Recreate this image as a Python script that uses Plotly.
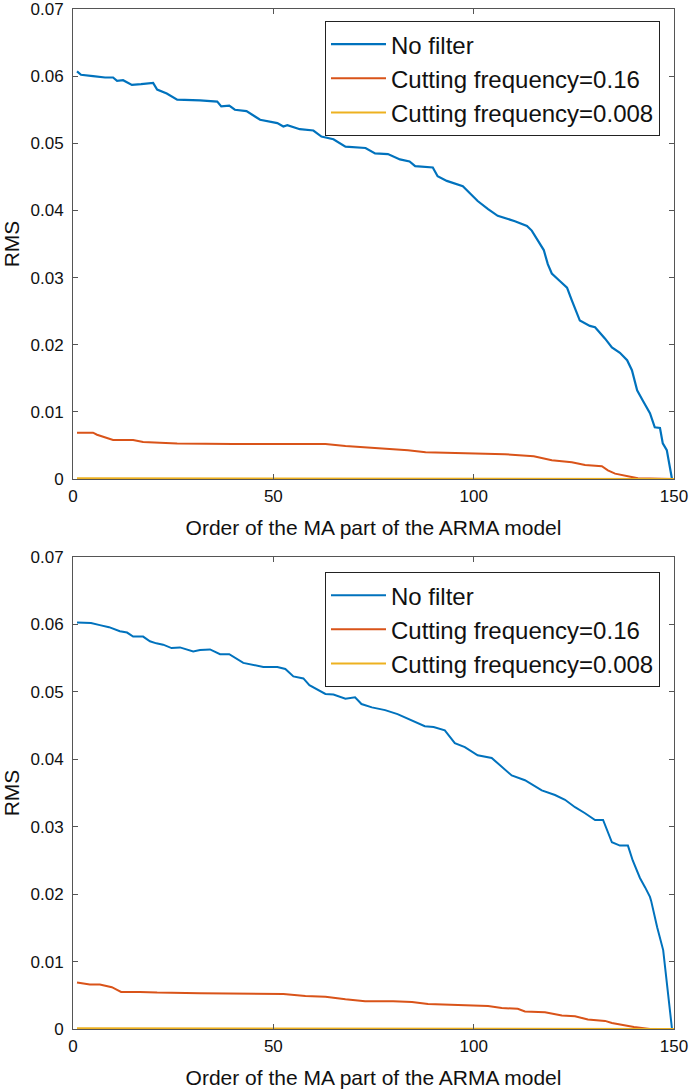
import plotly.graph_objects as go
from plotly.subplots import make_subplots

# ---------------- data ----------------
top_blue_x = [1, 2, 5, 8, 10, 11, 12.5, 14.7, 17, 20, 21, 23.4, 26, 31.7, 36, 37, 39, 40.4, 43.3, 46.7,
              51, 52.5, 53.5, 56.6, 60, 62, 65, 68, 73, 75.4, 78.6, 81.6, 84, 85.4, 89.8, 91, 93.3, 97.3,
              99, 101, 103.6, 106, 110.3, 113.3, 114.5, 115.8, 117.5, 118.5, 119.5, 121.5, 123.3, 124.5,
              125.8, 126.5, 129, 130.3, 132.8, 134.5, 136.5, 138.3, 139.5, 140.8, 142.2, 144, 145.2,
              146.5, 147.2, 148.2, 149.5]
top_blue_y = [0.0607, 0.0602, 0.0600, 0.0598, 0.0598, 0.0593, 0.0594, 0.0587, 0.0588, 0.0590,
              0.0580, 0.0574, 0.0565, 0.0564, 0.0562, 0.0555, 0.0556, 0.0550, 0.0548, 0.0535,
              0.0530, 0.0525, 0.0527, 0.0521, 0.0519, 0.0510, 0.0506, 0.0495, 0.0493, 0.0485,
              0.0484, 0.0476, 0.0473, 0.0466, 0.0464, 0.0451, 0.0444, 0.0436, 0.0426, 0.0414,
              0.0402, 0.0392, 0.0384, 0.0377, 0.0370, 0.0358, 0.0341, 0.0320, 0.0306, 0.0295,
              0.0285, 0.0266, 0.0248, 0.0236, 0.0228, 0.0226, 0.0209, 0.0196, 0.0188, 0.0177,
              0.0162, 0.0132, 0.0117, 0.0098, 0.0077, 0.0076, 0.0053, 0.0043, 0.0]

top_orange_x = [1, 5, 6, 8.4, 10, 15, 17.5, 21.7, 26, 40, 63, 68, 76, 83.6, 88, 93, 101, 107.8, 115,
                119.5, 124.5, 127.8, 132, 133.5, 135.3, 138.5, 141, 150]
top_orange_y = [0.0069, 0.0069, 0.0066, 0.0061, 0.0058, 0.0058, 0.0055, 0.0054, 0.0053, 0.0052,
                0.0052, 0.0049, 0.0046, 0.0043, 0.0040, 0.0039, 0.0038, 0.0037, 0.0034, 0.0028,
                0.0025, 0.0021, 0.0019, 0.0013, 0.0008, 0.0004, 0.0001, 0.0]

top_yellow_x = [1, 50, 100, 150]
top_yellow_y = [0.0001, 0.0001, 0.00005, 0.0]

bot_blue_x = [1, 4.5, 6.7, 9, 11.7, 13.5, 15, 17.5, 19.2, 20.8, 22.5, 24.6, 26.7, 30, 31.7, 34.2, 36.7,
              39, 42.5, 45, 47.5, 51, 53, 55, 57.5, 59, 61, 63, 65, 68, 70.4, 72, 74.6, 77.9, 81, 84.6,
              87.8, 90, 92.8, 95.3, 97.8, 101, 104.5, 109.5, 112.8, 117, 120.3, 122.8, 125.3, 127.8,
              130.3, 132.3, 134.5, 136.5, 138.5, 139.7, 141.5, 142.8, 144, 144.3, 145.8, 147.3, 148.2,
              149.5]
bot_blue_y = [0.0603, 0.0602, 0.0599, 0.0596, 0.0590, 0.0588, 0.0582, 0.0582, 0.0575, 0.0572,
              0.0570, 0.0565, 0.0566, 0.0560, 0.0562, 0.0563, 0.0556, 0.0556, 0.0543, 0.0540,
              0.0537, 0.0537, 0.0534, 0.0523, 0.0520, 0.0510, 0.0503, 0.0497, 0.0496, 0.0490,
              0.0492, 0.0482, 0.0477, 0.0473, 0.0467, 0.0458, 0.0449, 0.0448, 0.0443, 0.0424,
              0.0418, 0.0406, 0.0402, 0.0376, 0.0369, 0.0354, 0.0347, 0.0340, 0.0329, 0.0320,
              0.0310, 0.0310, 0.0277, 0.0272, 0.0272, 0.0250, 0.0224, 0.0210, 0.0196, 0.0190,
              0.0151, 0.0117, 0.0072, 0.0]

bot_orange_x = [1, 4.2, 6.7, 9.7, 11, 12, 16.7, 21, 31.7, 44, 52.5, 58, 63, 68, 72.9, 79.9, 84.6, 88.6,
                94.3, 103.6, 107, 111, 112.8, 117.8, 122, 125.3, 128.5, 132.8, 134.5, 137, 140, 144, 150]
bot_orange_y = [0.0069, 0.0066, 0.0066, 0.0062, 0.0058, 0.0055, 0.0055, 0.0054, 0.0053, 0.0053,
                0.0052, 0.0049, 0.0048, 0.0044, 0.0041, 0.0041, 0.0040, 0.0037, 0.0036, 0.0034,
                0.0031, 0.0030, 0.0026, 0.0025, 0.0020, 0.0019, 0.0014, 0.0012, 0.0009, 0.0006,
                0.0003, 0.0, 0.0]

bot_yellow_x = [1, 50, 100, 150]
bot_yellow_y = [0.0001, 0.0001, 0.00005, 0.0]

series_names = ["No filter", "Cutting frequency=0.16", "Cutting frequency=0.008"]
x_ticks = [0, 50, 100, 150]
y_ticks = [0, 0.01, 0.02, 0.03, 0.04, 0.05, 0.06, 0.07]
y_ticklabels = ["0", "0.01", "0.02", "0.03", "0.04", "0.05", "0.06", "0.07"]
x_title = "Order of the MA part of the ARMA model"
y_title = "RMS"

# ---------------- styling ----------------
BLUE, ORANGE, YELLOW = "#0072BD", "#D95319", "#EDB120"
FONT = "Arial, 'Liberation Sans', Helvetica, sans-serif"
AX = "#555555"

fig = make_subplots(rows=2, cols=1, vertical_spacing=0.0764)

panels = [
    (1, "legend", [(top_blue_x, top_blue_y, BLUE, 2.2), (top_orange_x, top_orange_y, ORANGE, 2.0),
                   (top_yellow_x, top_yellow_y, YELLOW, 2.0)]),
    (2, "legend2", [(bot_blue_x, bot_blue_y, BLUE, 2.0), (bot_orange_x, bot_orange_y, ORANGE, 2.0),
                    (bot_yellow_x, bot_yellow_y, YELLOW, 2.0)]),
]
for row, leg, traces in panels:
    for name, (xs, ys, col, w) in zip(series_names, traces):
        fig.add_trace(go.Scatter(x=xs, y=ys, mode="lines", name=name, legend=leg,
                                 line=dict(color=col, width=w)), row=row, col=1)

axis_common = dict(showline=True, linecolor=AX, linewidth=1, mirror="allticks",
                   ticks="inside", ticklen=5, tickcolor=AX, showgrid=False, zeroline=False,
                   automargin=False, ticklabeloverflow="allow",
                   tickfont=dict(family=FONT, size=17, color="#111111"),
                   title_font=dict(family=FONT, size=21, color="#111111"))
for r in (1, 2):
    fig.update_xaxes(range=[0, 150], tickvals=x_ticks, title_text=x_title, title_standoff=14,
                     ticklabelstandoff=2, row=r, col=1, **axis_common)
    fig.update_yaxes(range=[0, 0.07], tickvals=y_ticks, ticktext=y_ticklabels, title_text=y_title,
                     title_standoff=10, ticklabelstandoff=5, row=r, col=1, **axis_common)

fig.update_xaxes(domain=[0, 1])
fig.update_yaxes(domain=[0.5392, 1.0], row=1, col=1)
fig.update_yaxes(domain=[0.0, 0.4627], row=2, col=1)

legend_common = dict(xanchor="right", yanchor="top", x=0.9767, bgcolor="white",
                     bordercolor="#222222", borderwidth=1, itemwidth=55,
                     font=dict(family=FONT, size=24, color="#111111"), tracegroupgap=0)
fig.update_layout(
    width=690, height=1092,
    margin=dict(l=73, r=16, t=9, b=63, autoexpand=False),
    paper_bgcolor="white", plot_bgcolor="white",
    legend=dict(y=0.9882, **legend_common),
    legend2=dict(y=0.448, **legend_common),
    showlegend=True,
)

# remove the page's default body margin so the figure fills the window exactly
fig.write_html("out.html", config={"displayModeBar": False},
               post_script="document.body.style.margin='0';document.body.style.overflow='hidden';")
